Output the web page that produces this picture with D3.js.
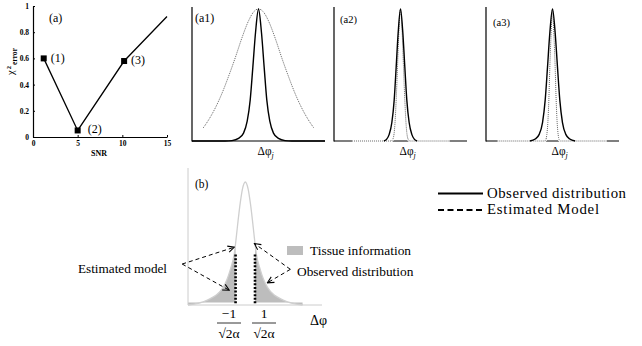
<!DOCTYPE html>
<html><head><meta charset="utf-8">
<script src="https://cdn.jsdelivr.net/npm/d3@7"></script>
<style>
body{margin:0;background:#fff;}
svg{display:block;}
text{font-family:"Liberation Serif","Times New Roman",serif;fill:#000;}
</style>
</head><body>
<svg id="c" width="642" height="346"></svg>
<script>
// ---------- Panel (a): chi^2 error vs SNR ----------
const snr = [1.2, 5, 10.2, 15];
const chi2Error = [0.6, 0.05, 0.58, 0.92];
const pointLabels = ["(1)", "(2)", "(3)"];
const snrTicks = [0, 5, 10, 15];
const chiTicks = [0, 0.2, 0.4, 0.6, 0.8, 1];
const chiTickLabels = ["0", "0.2", "0.4", "0.6", "0.8", "1"];

// ---------- Panels (a1)-(a3): observed (solid) vs estimated (dotted) ----------
const a1ObsX = [-1, -0.5, -0.4, -0.3, -0.225, -0.17, -0.125, -0.085, -0.045, 0, 0.045, 0.085, 0.125, 0.17, 0.225, 0.3, 0.4, 0.5, 1];
const a1ObsY = [0, 0, 0.003, 0.02, 0.06, 0.15, 0.31, 0.56, 0.82, 1, 0.82, 0.56, 0.31, 0.15, 0.06, 0.02, 0.003, 0, 0];
const a1EstX = [-0.83, -0.75, -0.65, -0.55, -0.45, -0.35, -0.25, -0.15, -0.07, 0, 0.07, 0.15, 0.25, 0.35, 0.45, 0.55, 0.65, 0.75, 0.83];
const a1EstY = [0.10, 0.16, 0.25, 0.36, 0.49, 0.63, 0.78, 0.91, 0.98, 1, 0.98, 0.91, 0.78, 0.63, 0.49, 0.36, 0.25, 0.16, 0.10];

const a2ObsX = [-0.25, -0.21, -0.17, -0.13, -0.095, -0.065, -0.035, 0, 0.035, 0.065, 0.095, 0.13, 0.17, 0.21, 0.25];
const a2ObsY = [0, 0.012, 0.05, 0.14, 0.31, 0.56, 0.82, 1, 0.82, 0.56, 0.31, 0.14, 0.05, 0.012, 0];
const a2EstX = [-0.73, -0.14, -0.11, -0.085, -0.065, -0.045, -0.025, 0, 0.025, 0.045, 0.065, 0.085, 0.11, 0.14, 0.74];
const a2EstY = [0, 0, 0.02, 0.12, 0.31, 0.56, 0.82, 1, 0.82, 0.56, 0.31, 0.12, 0.02, 0, 0];

const a3ObsX = [-0.34, -0.26, -0.2, -0.15, -0.11, -0.075, -0.04, 0, 0.04, 0.075, 0.11, 0.15, 0.2, 0.26, 0.34];
const a3ObsY = [0, 0.015, 0.05, 0.14, 0.31, 0.56, 0.82, 1, 0.82, 0.56, 0.31, 0.14, 0.05, 0.015, 0];
const a3EstX = [-0.83, -0.12, -0.1, -0.085, -0.07, -0.055, -0.04, -0.02, 0, 0.02, 0.04, 0.055, 0.07, 0.085, 0.1, 0.12, 0.82];
const a3EstY = [0, 0, 0.01, 0.05, 0.14, 0.31, 0.56, 0.82, 1, 0.82, 0.56, 0.31, 0.14, 0.05, 0.01, 0, 0];

const miniNames = ["(a1)", "(a2)", "(a3)"];

// ---------- Panel (b) ----------
const bCurveX = [-5.9, -3.9, -2.27, -1.55, -1.13, -1, -0.93, -0.52, -0.3, 0, 0.3, 0.52, 0.93, 1, 1.13, 1.55, 2.27, 3.9, 5.9];
const bCurveY = [0, 0.04, 0.146, 0.285, 0.42, 0.5, 0.55, 0.83, 0.94, 1, 0.94, 0.83, 0.55, 0.5, 0.42, 0.285, 0.146, 0.04, 0];
const bCutoffs = [-1, 1];
const bCutoffTop = 0.41;
// arrows: [fromX, fromY, toX, toY] in panel (b) units
const bArrowsModel = [[-6.5, 0.333, -1.13, 0.47], [-6.5, 0.333, -1.65, 0.12]];
const bArrowsObs = [[4.64, 0.29, 0.93, 0.50], [4.64, 0.29, 2.27, 0.18]];

const legendLabels = ["Observed distribution", "Estimated Model"];

// ================= drawing =================
const svg = d3.select("#c");
const FONT = '"Liberation Serif","Times New Roman",serif';

// ----- (a) -----
const ax = d3.scaleLinear().domain([0, 15]).range([33, 167]);
const ay = d3.scaleLinear().domain([0, 1]).range([137, 6]);
const gA = svg.append("g");

const yAx = gA.append("g").attr("transform", "translate(33,0)")
  .call(d3.axisLeft(ay).tickValues(chiTicks).tickFormat((d, i) => chiTickLabels[i])
    .tickSizeInner(-2).tickSizeOuter(0).tickPadding(4));
const xAx = gA.append("g").attr("transform", "translate(0,137)")
  .call(d3.axisBottom(ax).tickValues(snrTicks).tickFormat(d3.format("d"))
    .tickSizeInner(-2).tickSizeOuter(0).tickPadding(4));
[yAx, xAx].forEach(g => {
  g.attr("font-family", FONT).attr("font-size", 7.5).attr("font-weight", "bold");
  g.select(".domain").attr("stroke", "#000").attr("stroke-width", 1.2);
  g.selectAll(".tick line").attr("stroke", "#000");
});

gA.append("path")
  .datum(snr.map((s, i) => [s, chi2Error[i]]))
  .attr("fill", "none").attr("stroke", "#000").attr("stroke-width", 1.3)
  .attr("d", d3.line().x(d => ax(d[0])).y(d => ay(d[1])));

const labelOff = [[7, 4], [10, 3], [7, 3]];
pointLabels.forEach((lab, i) => {
  gA.append("rect")
    .attr("x", ax(snr[i]) - 3).attr("y", ay(chi2Error[i]) - 3)
    .attr("width", 6).attr("height", 6).attr("fill", "#000");
  gA.append("text")
    .attr("x", ax(snr[i]) + labelOff[i][0]).attr("y", ay(chi2Error[i]) + labelOff[i][1])
    .attr("font-size", 12).text(lab);
});
gA.append("text").attr("x", 49).attr("y", 22).attr("font-size", 12).text("(a)");
gA.append("text").attr("x", ax(7.4)).attr("y", 156).attr("text-anchor", "middle")
  .attr("font-size", 8).attr("font-weight", "bold").text("SNR");
const yl = gA.append("text").attr("transform", "translate(13.5,75) rotate(-90)");
yl.append("tspan").attr("font-size", 10.5).text("χ");
yl.append("tspan").attr("font-size", 6.5).attr("font-weight", "bold").attr("dy", -3).attr("dx", 1).text("2");
yl.append("tspan").attr("font-size", 7.5).attr("font-weight", "bold").attr("dy", 6.5).attr("dx", 1).text("error");

// ----- (a1)-(a3) -----
const miniLefts = [192, 334, 486];
const miniData = [
  [a1ObsX, a1ObsY, a1EstX, a1EstY],
  [a2ObsX, a2ObsY, a2EstX, a2EstY],
  [a3ObsX, a3ObsY, a3EstX, a3EstY]
];
const miniLabelPos = [[195, 22, 12], [340, 23, 10.5], [493, 26, 10.5]];
miniData.forEach((dd, k) => {
  const L = miniLefts[k];
  const mx = d3.scaleLinear().domain([-1, 1]).range([L, L + 133]);
  const my = d3.scaleLinear().domain([0, 1]).range([141, 9]);
  const g = svg.append("g");
  g.append("line").attr("x1", L).attr("x2", L).attr("y1", 7).attr("y2", 141.5)
    .attr("stroke", "#000").attr("stroke-width", 1.2);
  g.append("line").attr("x1", L).attr("x2", L + 133).attr("y1", 141).attr("y2", 141)
    .attr("stroke", "#000").attr("stroke-width", 1.2);
  const ln = d3.line().x(d => mx(d[0])).y(d => my(d[1])).curve(d3.curveMonotoneX);
  const obs = dd[0].map((x, i) => [x, dd[1][i]]);
  const est = dd[2].map((x, i) => [x, dd[3][i]]);
  g.append("path").datum(est).attr("d", ln).attr("fill", "none")
    .attr("stroke", "#fff").attr("stroke-width", 2.6);
  g.append("path").datum(est).attr("d", ln).attr("fill", "none")
    .attr("stroke", "#666").attr("stroke-width", 1).attr("stroke-dasharray", "1,1");
  g.append("path").datum(obs).attr("d", ln).attr("fill", "none")
    .attr("stroke", "#000").attr("stroke-width", 1.4);
  const t = g.append("text").attr("x", mx(0) - 1).attr("y", 155).attr("font-size", 11.5);
  t.append("tspan").text("Δφ");
  t.append("tspan").attr("font-size", 8).attr("font-style", "italic").attr("dy", 3).text("j");
  const p = miniLabelPos[k];
  g.append("text").attr("x", p[0]).attr("y", p[1]).attr("font-size", p[2]).text(miniNames[k]);
});

// ----- (b) -----
const bx = d3.scaleLinear().domain([-5.9, 7.9]).range([188, 322]);
const by = d3.scaleLinear().domain([0, 1]).range([305, 182]);
const gB = svg.append("g");
const bPts = bCurveX.map((x, i) => [x, bCurveY[i]]);
const area = d3.area().x(d => bx(d[0])).y0(by(0.02)).y1(d => by(d[1])).curve(d3.curveMonotoneX);
gB.append("path").datum(bPts.filter(d => d[0] <= bCutoffs[0])).attr("d", area).attr("fill", "#bdbdbd");
gB.append("path").datum(bPts.filter(d => d[0] >= bCutoffs[1])).attr("d", area).attr("fill", "#bdbdbd");
gB.append("line").attr("x1", 188).attr("x2", 188).attr("y1", 168).attr("y2", 305)
  .attr("stroke", "#ccc").attr("stroke-width", 1);
gB.append("line").attr("x1", 188).attr("x2", 322).attr("y1", 305).attr("y2", 305)
  .attr("stroke", "#ccc").attr("stroke-width", 1);
gB.append("path").datum(bPts)
  .attr("d", d3.line().x(d => bx(d[0])).y(d => by(d[1])).curve(d3.curveMonotoneX))
  .attr("fill", "none").attr("stroke", "#cfcfcf").attr("stroke-width", 1.3);
bCutoffs.forEach(c => {
  gB.append("line").attr("x1", bx(c)).attr("x2", bx(c)).attr("y1", by(bCutoffTop)).attr("y2", by(0))
    .attr("stroke", "#000").attr("stroke-width", 2.6).attr("stroke-dasharray", "2,1.6");
});
svg.append("defs").append("marker").attr("id", "ah")
  .attr("viewBox", "0 0 10 10").attr("refX", 9).attr("refY", 5)
  .attr("markerWidth", 8).attr("markerHeight", 8).attr("markerUnits", "userSpaceOnUse")
  .attr("orient", "auto")
  .append("path").attr("d", "M1,1 L9,5 L1,9").attr("fill", "none").attr("stroke", "#000").attr("stroke-width", 1.3);
bArrowsModel.concat(bArrowsObs).forEach(a => {
  gB.append("line").attr("x1", bx(a[0])).attr("y1", by(a[1])).attr("x2", bx(a[2])).attr("y2", by(a[3]))
    .attr("stroke", "#000").attr("stroke-width", 1).attr("stroke-dasharray", "4,3")
    .attr("marker-end", "url(#ah)");
});
gB.append("text").attr("x", 195).attr("y", 188).attr("font-size", 11.5).text("(b)");
gB.append("text").attr("x", 167).attr("y", 273).attr("text-anchor", "end").attr("font-size", 13.2).text("Estimated model");
gB.append("text").attr("x", 297).attr("y", 276).attr("font-size", 13.4).text("Observed distribution");
gB.append("rect").attr("x", 287).attr("y", 246).attr("width", 16).attr("height", 9).attr("fill", "#bdbdbd");
gB.append("text").attr("x", 310).attr("y", 255).attr("font-size", 13.4).text("Tissue information");
// fraction tick labels
const fracs = [["−1", 229], ["1", 264]];
fracs.forEach(f => {
  gB.append("text").attr("x", f[1]).attr("y", 318).attr("text-anchor", "middle").attr("font-size", 13.5).text(f[0]);
  gB.append("line").attr("x1", f[1] - 12).attr("x2", f[1] + 12).attr("y1", 323).attr("y2", 323)
    .attr("stroke", "#000").attr("stroke-width", 0.8);
  gB.append("text").attr("x", f[1]).attr("y", 338).attr("text-anchor", "middle").attr("font-size", 13.5).text("√2α");
});
gB.append("text").attr("x", 310).attr("y", 325).attr("font-size", 14).text("Δφ");

// ----- legend -----
const gL = svg.append("g");
gL.append("line").attr("x1", 438).attr("x2", 483).attr("y1", 193.5).attr("y2", 193.5)
  .attr("stroke", "#000").attr("stroke-width", 2);
gL.append("line").attr("x1", 438).attr("x2", 483).attr("y1", 210).attr("y2", 210)
  .attr("stroke", "#000").attr("stroke-width", 2).attr("stroke-dasharray", "6,3.5");
gL.append("text").attr("x", 487).attr("y", 197.5).attr("font-size", 14.8)
  .attr("textLength", 139).attr("lengthAdjust", "spacing").text(legendLabels[0]);
gL.append("text").attr("x", 487).attr("y", 214).attr("font-size", 14.8)
  .attr("textLength", 112).attr("lengthAdjust", "spacing").text(legendLabels[1]);
</script>
</body></html>
